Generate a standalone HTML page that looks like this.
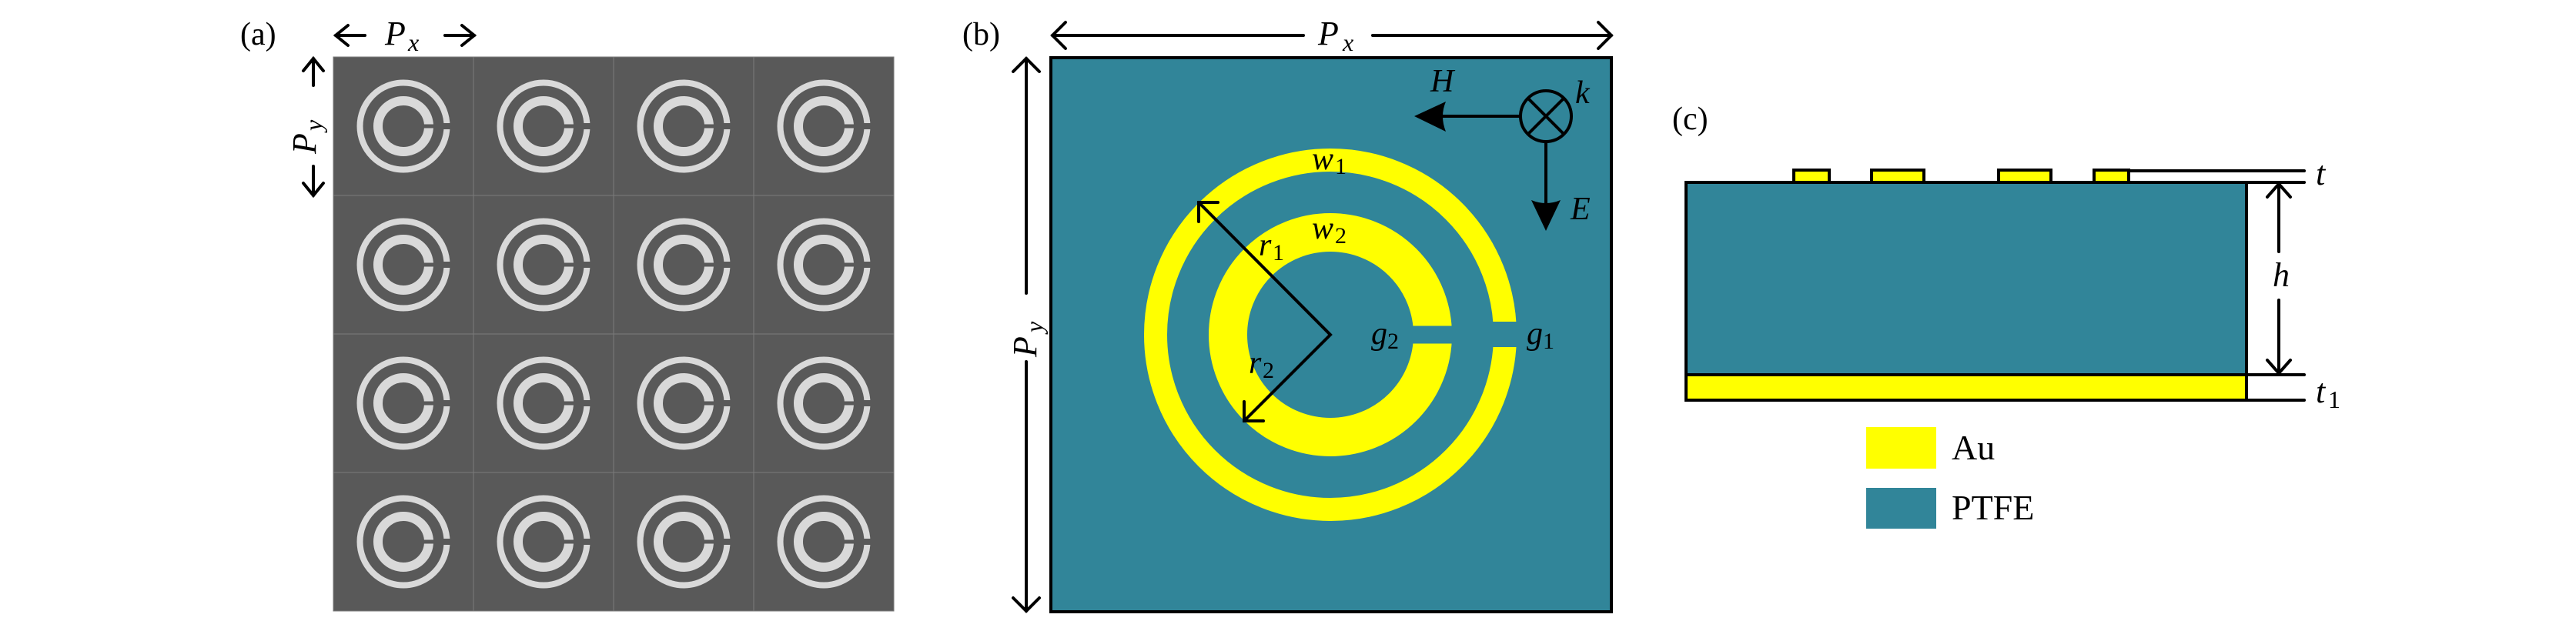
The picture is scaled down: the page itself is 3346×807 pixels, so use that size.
<!DOCTYPE html>
<html><head><meta charset="utf-8"><style>
html,body{margin:0;padding:0;background:#fff;}
svg{display:block;}
text{font-family:"Liberation Serif",serif;fill:#000;}
.it{font-style:italic;}
</style></head><body>
<svg width="3346" height="807" viewBox="0 0 3346 807" xmlns="http://www.w3.org/2000/svg">
<defs>
<g id="cell">
  <rect x="0" y="0" width="182" height="180" fill="#595959" stroke="#7a7a7a" stroke-width="1"/>
  <circle cx="91" cy="90" r="56.5" fill="none" stroke="#d9d9d9" stroke-width="8"/>
  <circle cx="91" cy="90" r="33" fill="none" stroke="#d9d9d9" stroke-width="12"/>
  <rect x="141" y="86" width="14" height="8" fill="#595959"/>
  <rect x="117" y="87.5" width="13" height="5" fill="#595959"/>
</g>
</defs>

<!-- Panel (a) -->
<text x="312" y="58" font-size="42">(a)</text>
<g>
<use href="#cell" x="433" y="74"/><use href="#cell" x="615" y="74"/><use href="#cell" x="797" y="74"/><use href="#cell" x="979" y="74"/>
<use href="#cell" x="433" y="254"/><use href="#cell" x="615" y="254"/><use href="#cell" x="797" y="254"/><use href="#cell" x="979" y="254"/>
<use href="#cell" x="433" y="434"/><use href="#cell" x="615" y="434"/><use href="#cell" x="797" y="434"/><use href="#cell" x="979" y="434"/>
<use href="#cell" x="433" y="614"/><use href="#cell" x="615" y="614"/><use href="#cell" x="797" y="614"/><use href="#cell" x="979" y="614"/>
</g>
<g stroke="#000" stroke-width="4" fill="none" stroke-linecap="round">
  <line x1="436" y1="46" x2="474" y2="46"/><polyline points="452,33 436,46 452,59"/>
  <line x1="578" y1="46" x2="616" y2="46"/><polyline points="600,33 616,46 600,59"/>
  <line x1="407" y1="76" x2="407" y2="111"/><polyline points="394,92 407,76 420,92"/>
  <line x1="407" y1="216" x2="407" y2="254"/><polyline points="394,238 407,254 420,238"/>
</g>
<text x="500" y="58" font-size="44" class="it">P</text><text x="530" y="66" font-size="32" class="it">x</text>
<g transform="translate(410,170) rotate(-90)"><text x="-30" y="0" font-size="44" class="it">P</text><text x="0" y="8" font-size="32" class="it">y</text></g>

<!-- Panel (b) -->
<text x="1250" y="58" font-size="42">(b)</text>
<rect x="1365" y="75" width="728" height="720" fill="#318599" stroke="#000" stroke-width="4"/>
<circle cx="1728" cy="435" r="227" fill="none" stroke="#ffff00" stroke-width="30"/>
<circle cx="1728" cy="435" r="133" fill="none" stroke="#ffff00" stroke-width="50"/>
<rect x="1935" y="418" width="40" height="33" fill="#318599"/>
<rect x="1828" y="423.5" width="66" height="23" fill="#318599"/>
<g stroke="#000" stroke-width="4" fill="none" stroke-linecap="round">
  <line x1="1367" y1="46" x2="1693" y2="46"/><polyline points="1384,29 1367,46 1384,63"/>
  <line x1="1783" y1="46" x2="2093" y2="46"/><polyline points="2076,29 2093,46 2076,63"/>
  <line x1="1333" y1="76" x2="1333" y2="381"/><polyline points="1316,93 1333,76 1350,93"/>
  <line x1="1333" y1="470" x2="1333" y2="794"/><polyline points="1316,777 1333,794 1350,777"/>
  <polyline points="1557,263 1728,435 1616,547"/>
  <polyline points="1557,288 1557,263 1582,263"/>
  <polyline points="1616,522 1616,547 1641,547"/>
  <circle cx="2008" cy="151" r="33"/>
  <line x1="1985" y1="128" x2="2031" y2="174"/><line x1="2031" y1="128" x2="1985" y2="174"/>
  <line x1="1975" y1="151" x2="1870" y2="151"/>
  <line x1="2008" y1="184" x2="2008" y2="265"/>
</g>
<path d="M1837,151 L1878,132 Q1870,151 1878,171 Z" fill="#000"/>
<path d="M2008,300 L1989,260 Q2008,268 2027,260 Z" fill="#000"/>
<text x="1712" y="58" font-size="44" class="it">P</text><text x="1744" y="66" font-size="32" class="it">x</text>
<g transform="translate(1346,432) rotate(-90)"><text x="-32" y="0" font-size="44" class="it">P</text><text x="0" y="8" font-size="32" class="it">y</text></g>
<text x="1858" y="119" font-size="42" class="it">H</text>
<text x="2046" y="134" font-size="42" class="it">k</text>
<text x="2040" y="285" font-size="42" class="it">E</text>
<text x="1704" y="220" font-size="42" class="it">w</text><text x="1734" y="226" font-size="30">1</text>
<text x="1704" y="310" font-size="42" class="it">w</text><text x="1734" y="316" font-size="30">2</text>
<text x="1635" y="332" font-size="42" class="it">r</text><text x="1653" y="338" font-size="30">1</text>
<text x="1622" y="485" font-size="42" class="it">r</text><text x="1640" y="491" font-size="30">2</text>
<text x="1781" y="447" font-size="42" class="it">g</text><text x="1802" y="453" font-size="30">2</text>
<text x="1983" y="447" font-size="42" class="it">g</text><text x="2004" y="453" font-size="30">1</text>

<!-- Panel (c) -->
<text x="2172" y="168" font-size="42">(c)</text>
<g stroke="#000" stroke-width="4" stroke-linecap="round">
  <line x1="2765" y1="222" x2="2993" y2="222"/>
  <line x1="2918" y1="237" x2="2993" y2="237"/>
  <line x1="2918" y1="487" x2="2993" y2="487"/>
  <line x1="2918" y1="520" x2="2993" y2="520"/>
  <line x1="2960" y1="239" x2="2960" y2="327"/><polyline points="2945,256 2960,239 2975,256" fill="none"/>
  <line x1="2960" y1="390" x2="2960" y2="485"/><polyline points="2945,468 2960,485 2975,468" fill="none"/>
</g>
<g stroke="#000" stroke-width="4">
  <rect x="2330" y="221" width="46" height="16" fill="#ffff00"/>
  <rect x="2431" y="221" width="68" height="16" fill="#ffff00"/>
  <rect x="2596" y="221" width="68" height="16" fill="#ffff00"/>
  <rect x="2720" y="221" width="45" height="16" fill="#ffff00"/>
  <rect x="2190" y="237" width="728" height="250" fill="#318599"/>
  <rect x="2190" y="487" width="728" height="33" fill="#ffff00"/>
</g>
<text x="3008" y="240" font-size="44" class="it">t</text>
<text x="2952" y="372" font-size="44" class="it">h</text>
<text x="3008" y="523" font-size="44" class="it">t</text><text x="3024" y="530" font-size="32">1</text>
<rect x="2424" y="555" width="91" height="54" fill="#ffff00"/>
<rect x="2424" y="634" width="91" height="53" fill="#318599"/>
<text x="2535" y="597" font-size="46">Au</text>
<text x="2535" y="675" font-size="46">PTFE</text>
</svg>
</body></html>
